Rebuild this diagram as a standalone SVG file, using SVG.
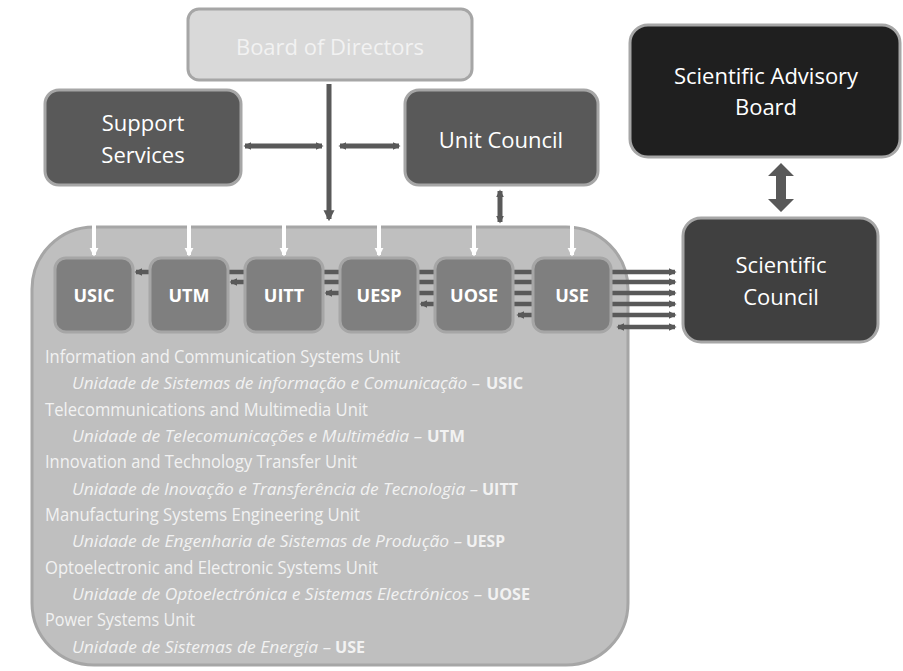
<svg xmlns="http://www.w3.org/2000/svg" width="903" height="671" viewBox="0 0 903 671">
<defs>
<style>
.box{stroke:#a6a6a6;stroke-width:3}
.t{font-family:"Open Sans","Liberation Sans",sans-serif;fill:#ffffff;text-anchor:middle}
.big{font-size:22px}
.u{font-size:18px;font-weight:bold}
.lst{font-family:"Open Sans","Liberation Sans",sans-serif;font-size:18px;fill:#f2f2f2}
.it{font-style:italic;font-size:16px}
.bd{font-weight:bold;font-size:16px}
.dk{stroke:#595959;stroke-width:5;fill:none}
.th{stroke:#595959;stroke-width:4.5;fill:none}
.wh{stroke:#ffffff;stroke-width:4;fill:none}
</style>
<marker id="ah" viewBox="0 0 10 10" markerWidth="11" markerHeight="12" refX="8" refY="5" orient="auto-start-reverse" markerUnits="userSpaceOnUse">
<path d="M0,0 L10,5 L0,10 z" fill="#595959"/>
</marker>
<marker id="as" viewBox="0 0 10 10" markerWidth="8" markerHeight="9" refX="8" refY="5" orient="auto-start-reverse" markerUnits="userSpaceOnUse">
<path d="M0,0 L10,5 L0,10 z" fill="#595959"/>
</marker>
<marker id="aw" viewBox="0 0 10 10" markerWidth="9" markerHeight="13" refX="8" refY="5" orient="auto" markerUnits="userSpaceOnUse">
<path d="M0,0 L10,5 L0,10 z" fill="#ffffff"/>
</marker>
</defs>
<rect width="903" height="671" fill="#ffffff"/>

<g id="container">
<rect x="32" y="227" width="596" height="438" rx="62" ry="62" fill="#bfbfbf" stroke="#a6a6a6" stroke-width="3"/>
</g>

<g id="connectors">
<line class="dk" x1="329" y1="84" x2="329" y2="219" marker-end="url(#ah)"/>
<line class="dk" x1="245" y1="146" x2="322" y2="146" marker-start="url(#as)" marker-end="url(#as)"/>
<line class="dk" x1="340" y1="146" x2="399" y2="146" marker-start="url(#as)" marker-end="url(#as)"/>
<line class="dk" x1="500" y1="191" x2="500" y2="222" marker-start="url(#as)" marker-end="url(#as)"/>
<polygon points="781,163 794,176 786,176 786,199 794,199 781,212 768,199 776,199 776,176 768,176" fill="#595959"/>
<line class="wh" x1="94" y1="224" x2="94" y2="255" marker-end="url(#aw)"/>
<line class="wh" x1="189" y1="224" x2="189" y2="255" marker-end="url(#aw)"/>
<line class="wh" x1="284" y1="224" x2="284" y2="255" marker-end="url(#aw)"/>
<line class="wh" x1="379" y1="224" x2="379" y2="255" marker-end="url(#aw)"/>
<line class="wh" x1="474" y1="224" x2="474" y2="255" marker-end="url(#aw)"/>
<line class="wh" x1="572" y1="224" x2="572" y2="255" marker-end="url(#aw)"/>
<line class="th" x1="149" y1="272" x2="136" y2="272" marker-end="url(#as)"/>
<line class="th" x1="229" y1="272" x2="245" y2="272"/>
<line class="th" x1="244" y1="282" x2="231" y2="282" marker-end="url(#as)"/>
<line class="th" x1="324" y1="272" x2="340" y2="272"/>
<line class="th" x1="324" y1="282" x2="340" y2="282"/>
<line class="th" x1="339" y1="293" x2="326" y2="293" marker-end="url(#as)"/>
<line class="th" x1="419" y1="272" x2="435" y2="272"/>
<line class="th" x1="419" y1="282" x2="435" y2="282"/>
<line class="th" x1="419" y1="293" x2="435" y2="293"/>
<line class="th" x1="434" y1="304" x2="421" y2="304" marker-end="url(#as)"/>
<line class="th" x1="514" y1="272" x2="533" y2="272"/>
<line class="th" x1="514" y1="282" x2="533" y2="282"/>
<line class="th" x1="514" y1="293" x2="533" y2="293"/>
<line class="th" x1="514" y1="304" x2="533" y2="304"/>
<line class="th" x1="532" y1="315" x2="518" y2="315" marker-end="url(#as)"/>
<line class="th" x1="612" y1="272" x2="675" y2="272" marker-end="url(#as)"/>
<line class="th" x1="612" y1="282" x2="675" y2="282" marker-end="url(#as)"/>
<line class="th" x1="612" y1="293" x2="675" y2="293" marker-end="url(#as)"/>
<line class="th" x1="612" y1="304" x2="675" y2="304" marker-end="url(#as)"/>
<line class="th" x1="612" y1="315" x2="675" y2="315" marker-end="url(#as)"/>
<line class="th" x1="618" y1="327" x2="675" y2="327" marker-start="url(#as)" marker-end="url(#as)"/>
</g>

<g id="board">
<rect class="box" x="188" y="9" width="284" height="71" rx="11" fill="#d9d9d9"/>
<text class="t big" x="330" y="55" style="fill:#f2f2f2">Board of Directors</text>
</g>
<g id="support">
<rect class="box" x="45" y="90" width="196" height="95" rx="14" fill="#595959"/>
<text class="t big" x="143" y="131">Support</text>
<text class="t big" x="143" y="163">Services</text>
</g>
<g id="unitcouncil">
<rect class="box" x="405" y="90" width="193" height="95" rx="14" fill="#595959"/>
<text class="t big" x="501" y="148">Unit Council</text>
</g>
<g id="sab">
<rect class="box" x="630" y="25" width="270" height="132" rx="18" fill="#1f1f1f"/>
<text class="t big" x="766" y="84">Scientific Advisory</text>
<text class="t big" x="766" y="115">Board</text>
</g>
<g id="sc">
<rect class="box" x="683" y="218" width="195" height="124" rx="18" fill="#404040"/>
<text class="t big" x="781" y="273">Scientific</text>
<text class="t big" x="781" y="305">Council</text>
</g>

<g id="usic"><rect class="box" x="55" y="258" width="78" height="74" rx="11" fill="#7f7f7f"/><text class="t u" x="94" y="302">USIC</text></g>
<g id="utm"><rect class="box" x="150" y="258" width="78" height="74" rx="11" fill="#7f7f7f"/><text class="t u" x="189" y="302">UTM</text></g>
<g id="uitt"><rect class="box" x="245" y="258" width="78" height="74" rx="11" fill="#7f7f7f"/><text class="t u" x="284" y="302">UITT</text></g>
<g id="uesp"><rect class="box" x="340" y="258" width="78" height="74" rx="11" fill="#7f7f7f"/><text class="t u" x="379" y="302">UESP</text></g>
<g id="uose"><rect class="box" x="435" y="258" width="78" height="74" rx="11" fill="#7f7f7f"/><text class="t u" x="474" y="302">UOSE</text></g>
<g id="use"><rect class="box" x="533" y="258" width="78" height="74" rx="11" fill="#7f7f7f"/><text class="t u" x="572" y="302">USE</text></g>

<g id="legend">
<text class="lst" x="45" y="363" textLength="355" lengthAdjust="spacingAndGlyphs">Information and Communication Systems Unit</text>
<text class="lst it" x="72" y="389" textLength="408" lengthAdjust="spacingAndGlyphs">Unidade de Sistemas de informação e Comunicação –</text>
<text class="lst bd" x="486" y="389" textLength="37" lengthAdjust="spacingAndGlyphs">USIC</text>
<text class="lst" x="45" y="416" textLength="323" lengthAdjust="spacingAndGlyphs">Telecommunications and Multimedia Unit</text>
<text class="lst it" x="72" y="442" textLength="350" lengthAdjust="spacingAndGlyphs">Unidade de Telecomunicações e Multimédia –</text>
<text class="lst bd" x="427" y="442" textLength="38" lengthAdjust="spacingAndGlyphs">UTM</text>
<text class="lst" x="45" y="468" textLength="312" lengthAdjust="spacingAndGlyphs">Innovation and Technology Transfer Unit</text>
<text class="lst it" x="72" y="495" textLength="406" lengthAdjust="spacingAndGlyphs">Unidade de Inovação e Transferência de Tecnologia –</text>
<text class="lst bd" x="482" y="495" textLength="36" lengthAdjust="spacingAndGlyphs">UITT</text>
<text class="lst" x="45" y="521" textLength="315" lengthAdjust="spacingAndGlyphs">Manufacturing Systems Engineering Unit</text>
<text class="lst it" x="72" y="547" textLength="390" lengthAdjust="spacingAndGlyphs">Unidade de Engenharia de Sistemas de Produção –</text>
<text class="lst bd" x="466" y="547" textLength="39" lengthAdjust="spacingAndGlyphs">UESP</text>
<text class="lst" x="45" y="574" textLength="333" lengthAdjust="spacingAndGlyphs">Optoelectronic and Electronic Systems Unit</text>
<text class="lst it" x="72" y="600" textLength="410" lengthAdjust="spacingAndGlyphs">Unidade de Optoelectrónica e Sistemas Electrónicos –</text>
<text class="lst bd" x="487" y="600" textLength="43" lengthAdjust="spacingAndGlyphs">UOSE</text>
<text class="lst" x="45" y="626" textLength="150" lengthAdjust="spacingAndGlyphs">Power Systems Unit</text>
<text class="lst it" x="72" y="653" textLength="259" lengthAdjust="spacingAndGlyphs">Unidade de Sistemas de Energia –</text>
<text class="lst bd" x="335" y="653" textLength="30" lengthAdjust="spacingAndGlyphs">USE</text>
</g>
</svg>
